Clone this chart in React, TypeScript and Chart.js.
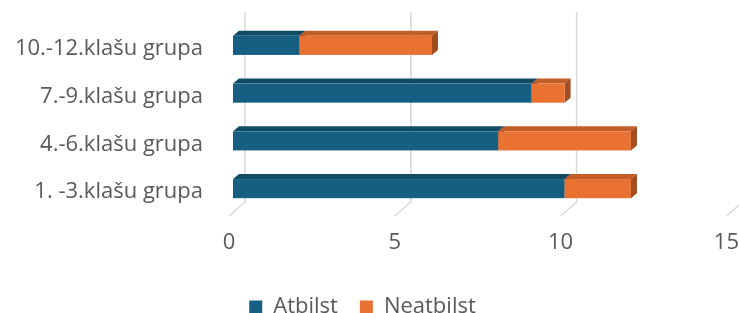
import React, { useEffect, useRef } from 'react';
import { Chart, registerables } from 'chart.js';

Chart.register(...registerables);

const categories = ['10.-12.klašu grupa', '7.-9.klašu grupa', '4.-6.klašu grupa', '1. -3.klašu grupa'];
const atbilst = [2, 9, 8, 10];
const neatbilst = [4, 1, 4, 2];
const xTicks = [0, 5, 10, 15];
const seriesNames = ['Atbilst', 'Neatbilst'];

const FONT = "'Open Sans', 'Noto Sans', sans-serif";
const TEXT = '#595959';
const FRONT = ['#156082', '#E97132'];
const TOP = ['#114C66', '#C35D27'];
const SIDE = ['#0F4258', '#A24C1F'];

// 3D projection offsets (pixels)
const BAR_DX = 4, BAR_DY = -3.5; // bar front face relative to floor front
const DEP_X = 6, DEP_Y = -5; // bar depth
const WALL_DX = 16, WALL_DY = -14; // back wall relative to floor front

const depth3d = {
  id: 'depth3d',
  beforeDatasetsDraw(chart: any) {
    const { ctx, chartArea, scales } = chart;
    const xs = scales.x;
    ctx.save();
    ctx.strokeStyle = '#D9D9D9';
    ctx.lineWidth = 1.5;
    xTicks.forEach((v) => {
      const px = xs.getPixelForValue(v);
      ctx.beginPath();
      ctx.moveTo(px, chartArea.bottom);
      ctx.lineTo(px + WALL_DX, chartArea.bottom + WALL_DY);
      ctx.lineTo(px + WALL_DX, chartArea.top - 13);
      ctx.stroke();
    });
    chart.data.datasets.forEach((_ds: any, di: number) => {
      const meta = chart.getDatasetMeta(di);
      meta.data.forEach((el: any) => {
        const { x, y, base, height } = el.getProps(['x', 'y', 'base', 'height'], true);
        const l = Math.min(x, base) + BAR_DX;
        const r = Math.max(x, base) + BAR_DX;
        const t = y - height / 2 + BAR_DY;
        const b = y + height / 2 + BAR_DY;
        if (r - l < 0.5) return;
        ctx.fillStyle = TOP[di];
        ctx.beginPath();
        ctx.moveTo(l, t);
        ctx.lineTo(l + DEP_X, t + DEP_Y);
        ctx.lineTo(r + DEP_X, t + DEP_Y);
        ctx.lineTo(r, t);
        ctx.closePath();
        ctx.fill();
        ctx.fillStyle = SIDE[di];
        ctx.beginPath();
        ctx.moveTo(r, t);
        ctx.lineTo(r + DEP_X, t + DEP_Y);
        ctx.lineTo(r + DEP_X, b + DEP_Y);
        ctx.lineTo(r, b);
        ctx.closePath();
        ctx.fill();
        ctx.fillStyle = FRONT[di];
        ctx.fillRect(l, t, r - l, b - t);
      });
    });
    ctx.restore();
    return false;
  },
};

export default function App() {
  const ref = useRef<HTMLCanvasElement | null>(null);
  useEffect(() => {
    if (!ref.current) return;
    const chart = new Chart(ref.current, {
      type: 'bar',
      data: {
        labels: categories,
        datasets: [
          { label: seriesNames[0], data: atbilst, backgroundColor: FRONT[0], barPercentage: 0.4, categoryPercentage: 1 },
          { label: seriesNames[1], data: neatbilst, backgroundColor: FRONT[1], barPercentage: 0.4, categoryPercentage: 1 },
        ],
      },
      options: {
        indexAxis: 'y',
        responsive: false,
        animation: false,
        layout: { padding: { left: -7, right: 7, top: 25, bottom: -15 } },
        scales: {
          x: {
            stacked: true,
            min: 0,
            max: 15,
            ticks: { stepSize: 5, color: TEXT, font: { family: FONT, size: 22 }, padding: 0 },
            grid: { display: false, drawTicks: true, tickLength: 14 },
            border: { display: false },
            afterFit: (s: any) => { s.height = 58; },
          },
          y: {
            stacked: true,
            ticks: { color: TEXT, font: { family: FONT, size: 22 }, padding: 0 },
            grid: { display: false, drawTicks: true, tickLength: 26 },
            border: { display: false },
            afterFit: (s: any) => { s.width = 236; },
          },
        },
        plugins: {
          legend: {
            position: 'bottom',
            labels: { boxWidth: 13, boxHeight: 13, color: TEXT, font: { family: FONT, size: 22 }, padding: 22 },
          },
          tooltip: { enabled: false },
        },
      },
      plugins: [depth3d],
    });
    return () => chart.destroy();
  }, []);
  return (
    <div style={{ position: 'fixed', left: 0, top: 0, width: 739, height: 313, background: '#fff' }}>
      <canvas ref={ref} width={739} height={313} style={{ width: 739, height: 313 }} />
    </div>
  );
}
